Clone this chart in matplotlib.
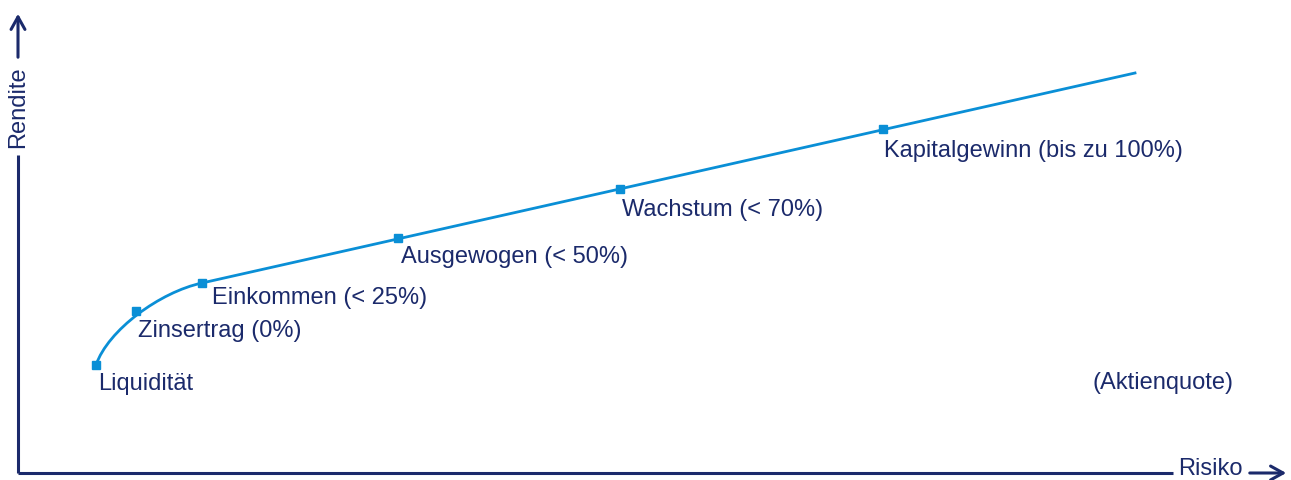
import matplotlib.pyplot as plt
from matplotlib.path import Path
from matplotlib.patches import PathPatch

# data (pixel-like units, y grows downward)
labels = ["Liquidität", "Zinsertrag (0%)", "Einkommen (< 25%)", "Ausgewogen (< 50%)",
          "Wachstum (< 70%)", "Kapitalgewinn (bis zu 100%)"]
risk = [96, 136, 202, 398, 620, 883]
ret = [365, 311, 283, 238, 189, 129]
line_end = (1135, 73)

NAVY = "#1b2a6b"
BLUE = "#0a8fd6"

plt.rcParams["font.family"] = ["Liberation Sans", "DejaVu Sans"]

fig = plt.figure(figsize=(12.91, 4.8), dpi=100)
ax = fig.add_axes([0, 0, 1, 1])
ax.set_xlim(0, 1291)
ax.set_ylim(480, 0)
ax.axis("off")

# curved start: Liquidität -> Einkommen
verts = [(risk[0], ret[0]), (108, 330), (160, 292), (risk[2], ret[2])]
codes = [Path.MOVETO, Path.CURVE4, Path.CURVE4, Path.CURVE4]
ax.add_patch(PathPatch(Path(verts, codes), fill=False, edgecolor=BLUE, lw=2.0))

# straight part
ax.plot([risk[2], line_end[0]], [ret[2], line_end[1]], color=BLUE, lw=2.0)
ax.plot(risk, ret, "s", color=BLUE, ms=5.5, zorder=3)

# labels
offsets = [(2, 19), (2, 20), (10, 15), (3, 19), (2, 21), (1, 22)]
for lab, x, y, (dx, dy) in zip(labels, risk, ret, offsets):
    ax.text(x + dx, y + dy, lab, color=NAVY, fontsize=17, va="center", ha="left")
ax.text(1092, 383, "(Aktienquote)", color=NAVY, fontsize=17, va="center", ha="left")

# axes with arrows
ax.plot([18, 18], [473, 155], color=NAVY, lw=2.2, solid_capstyle="butt")
ax.plot([18, 1173], [473, 473], color=NAVY, lw=2.2, solid_capstyle="butt")
ax.annotate("", xy=(18, 11), xytext=(18, 60),
            arrowprops=dict(arrowstyle="->,head_length=0.9,head_width=0.5", color=NAVY, lw=2.2))
ax.annotate("", xy=(1289, 473), xytext=(1247, 473),
            arrowprops=dict(arrowstyle="->,head_length=0.9,head_width=0.5", color=NAVY, lw=2.2))
ax.text(18, 107, "Rendite", color=NAVY, fontsize=17, rotation=90, va="center", ha="center")
ax.text(1210, 469, "Risiko", color=NAVY, fontsize=17, va="center", ha="center")

fig.savefig("out.png", dpi=100)
